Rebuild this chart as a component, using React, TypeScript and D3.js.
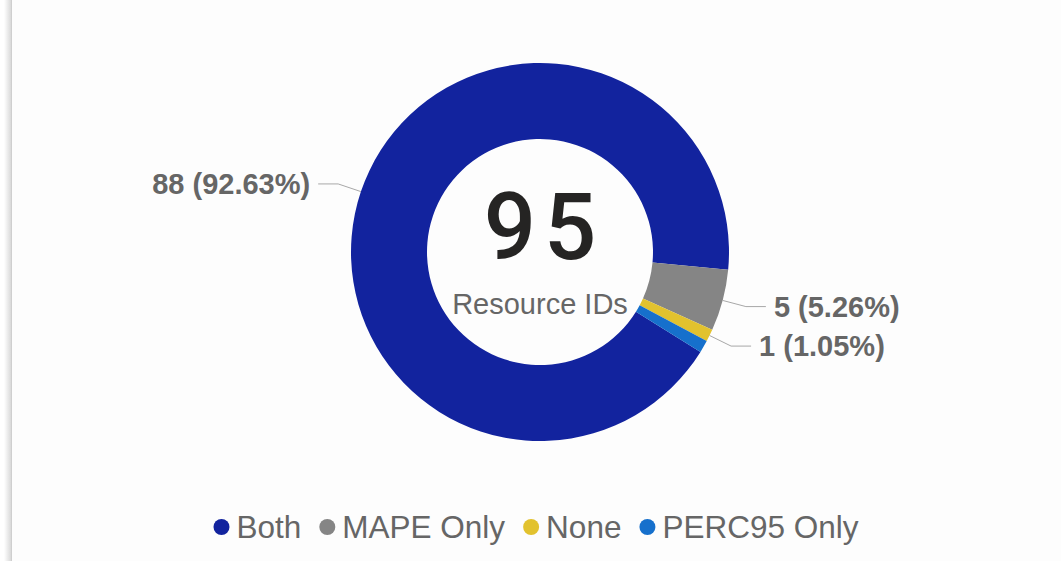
import React, { useRef, useEffect } from "react";
import * as d3 from "d3";

const categories = ["Both", "MAPE Only", "None", "PERC95 Only"];
const counts = [88, 5, 1, 1];
const sliceColors = ["#12239E", "#858585", "#E2C22E", "#1670CC"];
// PERC95 label is hidden in the original (overlaps the None label)
const showLabel = [true, true, true, false];
const centerCaption = "Resource IDs";

function App() {
    const svgRef = useRef<SVGSVGElement>(null);

    useEffect(() => {
        const width = 1061;
        const height = 561;
        const cx = 540;
        const cy = 252;
        const outerR = 189;
        const innerR = 113;
        const total = d3.sum(counts);

        const svg = d3.select(svgRef.current);
        svg.selectAll("*").remove();
        svg.attr("width", width).attr("height", height);

        // panel background with a soft left edge
        const defs = svg.append("defs");
        const grad = defs.append("linearGradient").attr("id", "edgeShadow");
        grad.append("stop").attr("offset", "0%").attr("stop-color", "#ffffff");
        grad.append("stop").attr("offset", "100%").attr("stop-color", "#d9d9d9");
        svg.append("rect").attr("width", width).attr("height", height).attr("fill", "#ffffff");
        svg.append("rect").attr("x", 4).attr("y", 0).attr("width", 7).attr("height", height).attr("fill", "url(#edgeShadow)");
        svg.append("rect").attr("x", 11).attr("y", 0).attr("width", width - 11).attr("height", height).attr("fill", "#fdfdfd");
        svg.append("line").attr("x1", 11.5).attr("x2", 11.5).attr("y1", 0).attr("y2", height)
            .attr("stroke", "#cfcfcf").attr("stroke-width", 1);

        const start = (121.9 * Math.PI) / 180;
        const pie = d3.pie<number>().sort(null).startAngle(start).endAngle(start + 2 * Math.PI);
        const arcs = pie(counts);

        const arc = d3.arc<d3.PieArcDatum<number>>().innerRadius(innerR).outerRadius(outerR);

        const g = svg.append("g").attr("transform", `translate(${cx},${cy})`);
        g.selectAll(".slice")
            .data(arcs)
            .join("path")
            .attr("class", "slice")
            .attr("d", arc)
            .attr("fill", (d, i) => sliceColors[i]);

        // data labels with leader lines
        const elbowR = outerR + 24;
        arcs.forEach((d, i) => {
            if (!showLabel[i]) return;
            const mid = (d.startAngle + d.endAngle) / 2;
            const p0 = [outerR * Math.sin(mid), -outerR * Math.cos(mid)];
            const p1 = [elbowR * Math.sin(mid), -elbowR * Math.cos(mid)];
            const right = Math.sin(mid) > 0;
            const p2 = [p1[0] + (right ? 20 : -20), p1[1]];
            g.append("path")
                .attr("d", d3.line()([p0, p1, p2] as [number, number][]))
                .attr("fill", "none")
                .attr("stroke", "#a8a8a8")
                .attr("stroke-width", 1);
            const pct = ((counts[i] / total) * 100).toFixed(2);
            g.append("text")
                .attr("x", p2[0] + (right ? 8 : -8))
                .attr("y", p2[1])
                .attr("dy", "0.35em")
                .attr("text-anchor", right ? "start" : "end")
                .attr("font-family", "Liberation Sans, Arial, sans-serif")
                .attr("font-weight", "bold")
                .attr("font-size", 29)
                .attr("fill", "#666666")
                .text(`${counts[i]} (${pct}%)`);
        });

        // center total
        g.append("text")
            .attr("x", 4)
            .attr("y", 7)
            .attr("text-anchor", "middle")
            .attr("font-family", "Roboto, sans-serif")
            .attr("font-weight", 500)
            .attr("font-size", 92)
            .attr("letter-spacing", 8)
            .attr("fill", "#252423")
            .text(String(total));
        g.append("text")
            .attr("x", 0)
            .attr("y", 62)
            .attr("text-anchor", "middle")
            .attr("font-family", "Liberation Sans, Arial, sans-serif")
            .attr("font-size", 29)
            .attr("fill", "#666666")
            .text(centerCaption);

        // legend
        const legend = svg.append("g").attr("transform", `translate(0,538)`);
        const items = legend.selectAll(".item")
            .data(categories)
            .join("g")
            .attr("class", "item");
        items.append("circle").attr("r", 8).attr("cy", -11).attr("fill", (d, i) => sliceColors[i]);
        items.append("text")
            .attr("x", 15)
            .attr("font-family", "Liberation Sans, Arial, sans-serif")
            .attr("font-size", 31.5)
            .attr("fill", "#666666")
            .text((d) => d);
        const widths: number[] = [];
        items.select("text").each(function () {
            widths.push((this as SVGTextElement).getComputedTextLength());
        });
        const gap = 18;
        const itemW = widths.map((w) => 8 + 15 + w);
        const totalW = d3.sum(itemW) + gap * (itemW.length - 1);
        let x = 536 - totalW / 2 + 8;
        items.attr("transform", (d, i) => {
            const t = `translate(${x},0)`;
            x += itemW[i] + gap;
            return t;
        });
    }, []);

    return (
        <div style={{ position: "fixed", top: 0, left: 0 }}>
            <svg ref={svgRef} style={{ display: "block" }}></svg>
        </div>
    );
}

export default App;
